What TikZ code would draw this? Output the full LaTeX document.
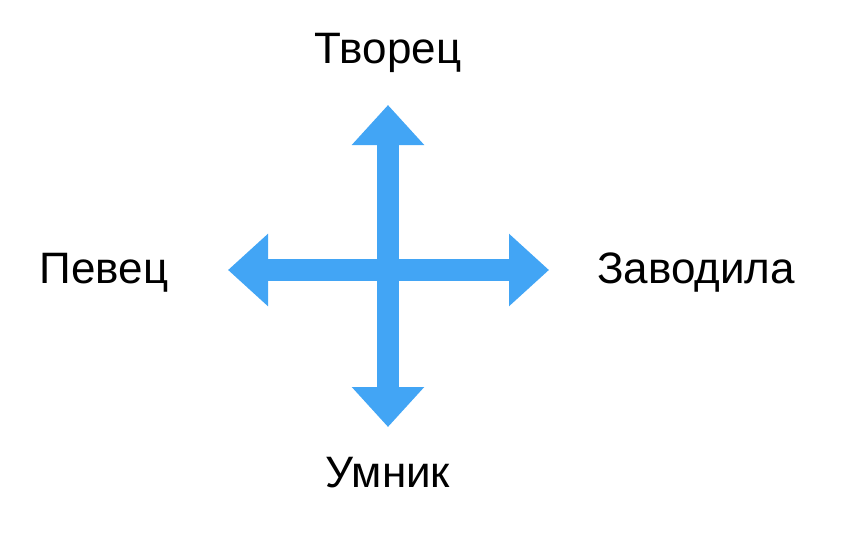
\documentclass[tikz,border=0pt]{standalone}
\usepackage{fontspec}
\setmainfont{Liberation Sans}
\usetikzlibrary{arrows.meta}
\definecolor{arr}{HTML}{42A5F5}
\begin{document}
\begin{tikzpicture}[x=1pt,y=-1pt,
  lbl/.style={font=\fontsize{44}{48}\selectfont, inner sep=0pt},
  bigarrow/.style={draw=arr, line width=22pt, {Triangle[width=70pt,length=40pt]}-{Triangle[width=70pt,length=40pt]}, shorten <=0pt, shorten >=0pt}]
\useasboundingbox (0,0) rectangle (841,544);
\coordinate (t) at (388,105);
\coordinate (b) at (388,427);
\coordinate (l) at (228,270);
\coordinate (r) at (549,270);
\draw[bigarrow] (t) -- (b);
\draw[bigarrow] (l) -- (r);
\node[lbl] (tv) at (388,53) {Творец};
\node[lbl] (pv) at (104,273) {Певец};
\node[lbl] (zv) at (696,273) {Заводила};
\node[lbl] (um) at (388,473) {Умник};
\end{tikzpicture}
\end{document}
